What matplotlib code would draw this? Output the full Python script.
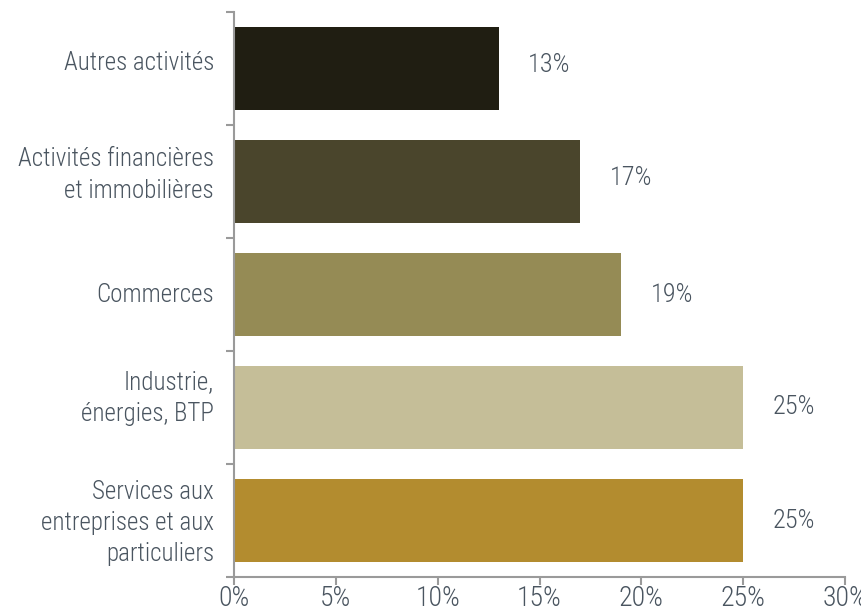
import matplotlib
matplotlib.use("Agg")
import matplotlib.pyplot as plt
from matplotlib.ticker import FixedLocator, NullFormatter, FuncFormatter
from matplotlib.transforms import ScaledTranslation

categories = [
    "Autres activités",
    "Activités financières\net immobilières",
    "Commerces",
    "Industrie,\nénergies, BTP",
    "Services aux\nentreprises et aux\nparticuliers",
]
values = [13, 17, 19, 25, 25]
colors = ["#201e12", "#4a452c", "#958b55", "#c5be98", "#b38c2f"]
xticks = [0, 5, 10, 15, 20, 25, 30]

plt.rcParams["font.family"] = ["Roboto Condensed", "Roboto", "DejaVu Sans"]
plt.rcParams["font.weight"] = 300
text_color = "#4a5560"
axis_color = "#9a9a9a"

fig = plt.figure(figsize=(8.61, 6.08), dpi=100)
ax = fig.add_axes([234 / 861, 1 - 577 / 608, 611 / 861, 565 / 608])

n = len(categories)
ypos = list(range(n))
ax.barh(ypos, values, height=0.73, color=colors)
ax.set_ylim(n - 0.5, -0.5)
ax.set_xlim(0, 30)

def px(dx, dy):
    # offset expressed in pixels at 100 dpi
    return ScaledTranslation(dx / 100, dy / 100, fig.dpi_scale_trans)

# value labels to the right of each bar
value_lift = [3, 3.5, 0, 0, 0]
for y, v, dy in zip(ypos, values, value_lift):
    ax.text(v + 1.45, y, f"{v}%", va="center", ha="left", fontsize=19,
            fontweight=300, color=text_color,
            transform=ax.transData + px(0, dy))

# category labels, right-aligned left of the axis
label_lift = [5, 6.5, 0, 9.5, -2.4]
for y, name, dy in zip(ypos, categories, label_lift):
    ax.text(0, y, name, ha="right", va="center", multialignment="right",
            fontsize=18, fontweight=300, color=text_color, linespacing=1.37,
            transform=ax.get_yaxis_transform() + px(-20, dy))

ax.xaxis.set_major_locator(FixedLocator(xticks))
ax.xaxis.set_major_formatter(FuncFormatter(lambda x, p: f"{x:.0f}%"))
ax.yaxis.set_major_locator(FixedLocator([i - 0.5 for i in range(n + 1)]))
ax.yaxis.set_major_formatter(NullFormatter())

ax.tick_params(axis="x", direction="out", length=6, width=1.5, color=axis_color,
               labelsize=20, labelcolor=text_color, pad=0)
ax.tick_params(axis="y", which="major", direction="out", length=6, width=1.5, color=axis_color)
for lbl in ax.get_xticklabels():
    lbl.set_fontweight(300)

for side in ["top", "right"]:
    ax.spines[side].set_visible(False)
for side in ["left", "bottom"]:
    ax.spines[side].set_color(axis_color)
    ax.spines[side].set_linewidth(1.5)

fig.savefig("out.png", dpi=100)
